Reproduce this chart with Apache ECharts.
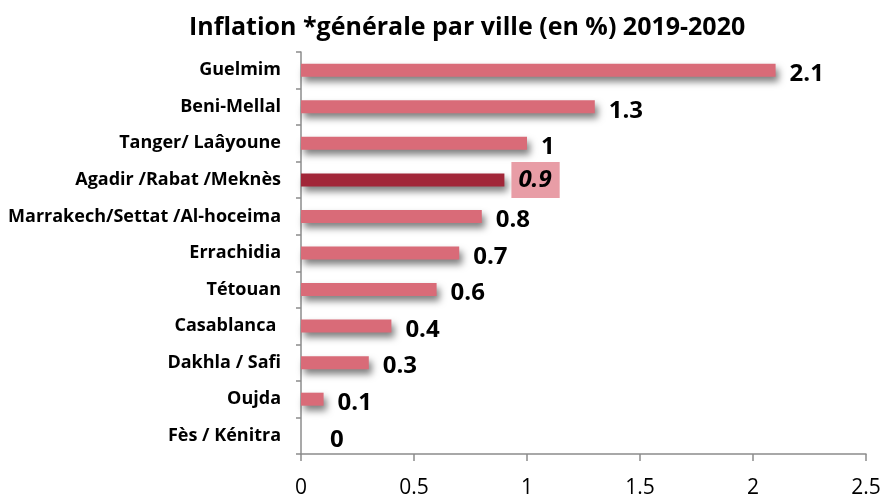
<!DOCTYPE html>
<html>
<head>
<meta charset="utf-8">
<script src="https://cdn.jsdelivr.net/npm/echarts@6/dist/echarts.min.js"></script>
<style>
	html, body { margin: 0; padding: 0; background: #fff; }
	#chart { width: 886px; height: 499px; }
</style>
</head>
<body>
<div id="chart"></div>
<script>
// villes, du haut vers le bas
var villes = ['Guelmim', 'Beni-Mellal', 'Tanger/ Laâyoune', 'Agadir /Rabat /Meknès',
	'Marrakech/Settat /Al-hoceima', 'Errachidia', 'Tétouan', 'Casablanca ',
	'Dakhla / Safi', 'Oujda', 'Fès / Kénitra'];
var inflation = [2.1, 1.3, 1, 0.9, 0.8, 0.7, 0.6, 0.4, 0.3, 0.1, 0];
var xTicks = [0, 0.5, 1, 1.5, 2, 2.5];
var highlight = 'Agadir /Rabat /Meknès';

chart1();

function chart1() {
	let myChart = echarts.init(document.getElementById('chart'));
	let font = '"Open Sans", sans-serif';

	let data = inflation.map(function(v, i) {
		let item = { value: v };
		if (villes[i] === highlight) {
			item.itemStyle = { color: '#A12638' };
			item.label = {
				fontStyle: 'italic',
				backgroundColor: '#E89DA6',
				padding: [7, 8, 5, 7],
				distance: 7,
				offset: [0, 0]
			};
		}
		if (v === 0) {
			item.label = { distance: 29 };
		}
		return item;
	});

	option = {
		animation: false,
		title: {
			text: 'Inflation *générale par ville (en %) 2019-2020',
			left: 184,
			top: 10,
			textStyle: {
				fontFamily: font,
				fontSize: 25,
				fontWeight: 'bold',
				color: '#000'
			}
		},
		grid: {
			left: 301,
			right: 20,
			top: 52,
			bottom: 45
		},
		xAxis: {
			type: 'value',
			min: xTicks[0],
			max: xTicks[xTicks.length - 1],
			interval: 0.5,
			splitLine: { show: false },
			axisLine: { show: true, lineStyle: { color: '#8c8c8c', width: 1.5 } },
			axisTick: { show: true, length: 7, lineStyle: { color: '#8c8c8c', width: 1.5 } },
			axisLabel: {
				margin: 24,
				fontFamily: font,
				fontSize: 21,
				color: '#000'
			}
		},
		yAxis: {
			type: 'category',
			inverse: true,
			data: villes,
			axisLine: { show: true, lineStyle: { color: '#8c8c8c', width: 1.5 } },
			axisTick: { show: true, length: 5, lineStyle: { color: '#8c8c8c', width: 1.5 } },
			axisLabel: {
				margin: 20,
				fontFamily: font,
				fontSize: 18,
				fontWeight: 'bold',
				color: '#000'
			}
		},
		series: [{
			type: 'bar',
			barWidth: 13,
			data: data,
			itemStyle: {
				color: '#D96B78',
				shadowColor: 'rgba(0,0,0,0.5)',
				shadowBlur: 7,
				shadowOffsetX: 3,
				shadowOffsetY: 5
			},
			label: {
				show: true,
				position: 'right',
				distance: 14,
				fontFamily: font,
				fontSize: 24,
				fontWeight: 'bold',
				color: '#000',
				offset: [0, 4]
			}
		}]
	};

	myChart.setOption(option);
	window.addEventListener('resize', function() {
		myChart.resize();
	})
}
</script>
</body>
</html>
